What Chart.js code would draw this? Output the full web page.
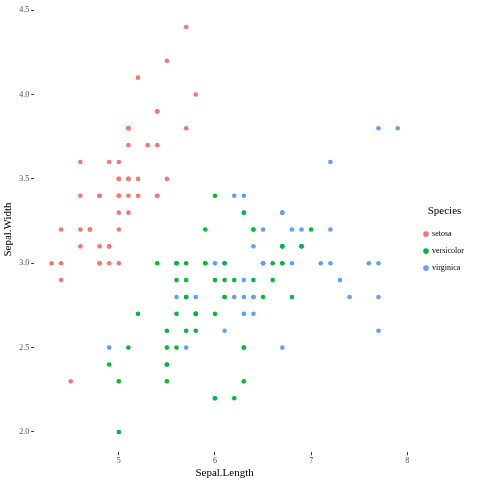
<!DOCTYPE html>
<html>
<head>
<script src="https://cdn.jsdelivr.net/npm/chart.js@4"></script>
<style>
  body { margin: 0; background: #fff; }
  #wrap { width: 484px; height: 484px; }
</style>
</head>
<body>
<div id="wrap"><canvas id="chart"></canvas></div>
<script>
const species = ["setosa", "versicolor", "virginica"];
const colors = ["#F8766D", "#00BA38", "#619CFF"];
const xTicks = [5, 6, 7, 8];
const yTicks = [2.0, 2.5, 3.0, 3.5, 4.0, 4.5];

const setosaLength = [5.1,4.9,4.7,4.6,5.0,5.4,4.6,5.0,4.4,4.9,5.4,4.8,4.8,4.3,5.8,5.7,5.4,5.1,5.7,5.1,5.4,5.1,4.6,5.1,4.8,5.0,5.0,5.2,5.2,4.7,4.8,5.4,5.2,5.5,4.9,5.0,5.5,4.9,4.4,5.1,5.0,4.5,4.4,5.0,5.1,4.8,5.1,4.6,5.3,5.0];
const setosaWidth = [3.5,3.0,3.2,3.1,3.6,3.9,3.4,3.4,2.9,3.1,3.7,3.4,3.0,3.0,4.0,4.4,3.9,3.5,3.8,3.8,3.4,3.7,3.6,3.3,3.4,3.0,3.4,3.5,3.4,3.2,3.1,3.4,4.1,4.2,3.1,3.2,3.5,3.6,3.0,3.4,3.5,2.3,3.2,3.5,3.8,3.0,3.8,3.2,3.7,3.3];
const versicolorLength = [7.0,6.4,6.9,5.5,6.5,5.7,6.3,4.9,6.6,5.2,5.0,5.9,6.0,6.1,5.6,6.7,5.6,5.8,6.2,5.6,5.9,6.1,6.3,6.1,6.4,6.6,6.8,6.7,6.0,5.7,5.5,5.5,5.8,6.0,5.4,6.0,6.7,6.3,5.6,5.5,5.5,6.1,5.8,5.0,5.6,5.7,5.7,6.2,5.1,5.7];
const versicolorWidth = [3.2,3.2,3.1,2.3,2.8,2.8,3.3,2.4,2.9,2.7,2.0,3.0,2.2,2.9,2.9,3.1,3.0,2.7,2.2,2.5,3.2,2.8,2.5,2.8,2.9,3.0,2.8,3.0,2.9,2.6,2.4,2.4,2.7,2.7,3.0,3.4,3.1,2.3,3.0,2.5,2.6,3.0,2.6,2.3,2.7,3.0,2.9,2.9,2.5,2.8];
const virginicaLength = [6.3,5.8,7.1,6.3,6.5,7.6,4.9,7.3,6.7,7.2,6.5,6.4,6.8,5.7,5.8,6.4,6.5,7.7,7.7,6.0,6.9,5.6,7.7,6.3,6.7,7.2,6.2,6.1,6.4,7.2,7.4,7.9,6.4,6.3,6.1,7.7,6.3,6.4,6.0,6.9,6.7,6.9,5.8,6.8,6.7,6.7,6.3,6.5,6.2,5.9];
const virginicaWidth = [3.3,2.7,3.0,2.9,3.0,3.0,2.5,2.9,2.5,3.6,3.2,2.7,3.0,2.5,2.8,3.2,3.0,3.8,2.6,2.2,3.2,2.8,2.8,2.7,3.3,3.2,2.8,3.0,2.8,3.0,2.8,3.8,2.8,2.8,2.6,3.0,3.4,3.1,3.0,3.1,3.1,3.1,2.7,3.2,3.3,3.0,2.5,3.0,3.4,3.0];

const lengths = [setosaLength, versicolorLength, virginicaLength];
const widths = [setosaWidth, versicolorWidth, virginicaWidth];

const datasets = species.map((s, i) => ({
  label: s,
  data: lengths[i].map((x, j) => ({ x: x, y: widths[i][j] })),
  backgroundColor: colors[i],
  borderColor: colors[i],
  borderWidth: 0,
  pointRadius: 2.3,
  pointHoverRadius: 2.3,
}));

const serif = "'Liberation Serif', 'DejaVu Serif', serif";

new Chart(document.getElementById("chart"), {
  type: "scatter",
  data: { datasets: datasets },
  options: {
    responsive: true,
    maintainAspectRatio: false,
    animation: false,
    layout: { padding: { top: 5, right: 10, bottom: 2, left: 2 } },
    plugins: {
      legend: {
        position: "right",
        title: { display: true, text: "Species", color: "#000", font: { family: serif, size: 11 }, padding: { top: 0, bottom: 2 } },
        labels: {
          usePointStyle: true,
          pointStyle: "circle",
          boxWidth: 4,
          boxHeight: 4,
          padding: 9,
          color: "#000",
          font: { family: serif, size: 8 },
        },
      },
      tooltip: { enabled: false },
    },
    scales: {
      x: {
        type: "linear",
        min: 4.12,
        max: 8.08,
        afterBuildTicks: (axis) => { axis.ticks = xTicks.map((v) => ({ value: v })); },
        grid: { drawOnChartArea: false, drawTicks: true, tickLength: 3, color: "#333" },
        border: { display: false },
        ticks: { color: "#4d4d4d", font: { family: serif, size: 8 }, padding: 1 },
        title: { display: true, text: "Sepal.Length", color: "#000", font: { family: serif, size: 11 }, padding: { top: 0, bottom: 2 } },
      },
      y: {
        type: "linear",
        min: 1.88,
        max: 4.52,
        afterBuildTicks: (axis) => { axis.ticks = yTicks.map((v) => ({ value: v })); },
        grid: { drawOnChartArea: false, drawTicks: true, tickLength: 3, color: "#333" },
        border: { display: false },
        ticks: { color: "#4d4d4d", font: { family: serif, size: 8 }, padding: 2, callback: (v) => v.toFixed(1) },
        title: { display: true, text: "Sepal.Width", color: "#000", font: { family: serif, size: 11 }, padding: { top: 0, bottom: 2 } },
      },
    },
  },
});
</script>
</body>
</html>
